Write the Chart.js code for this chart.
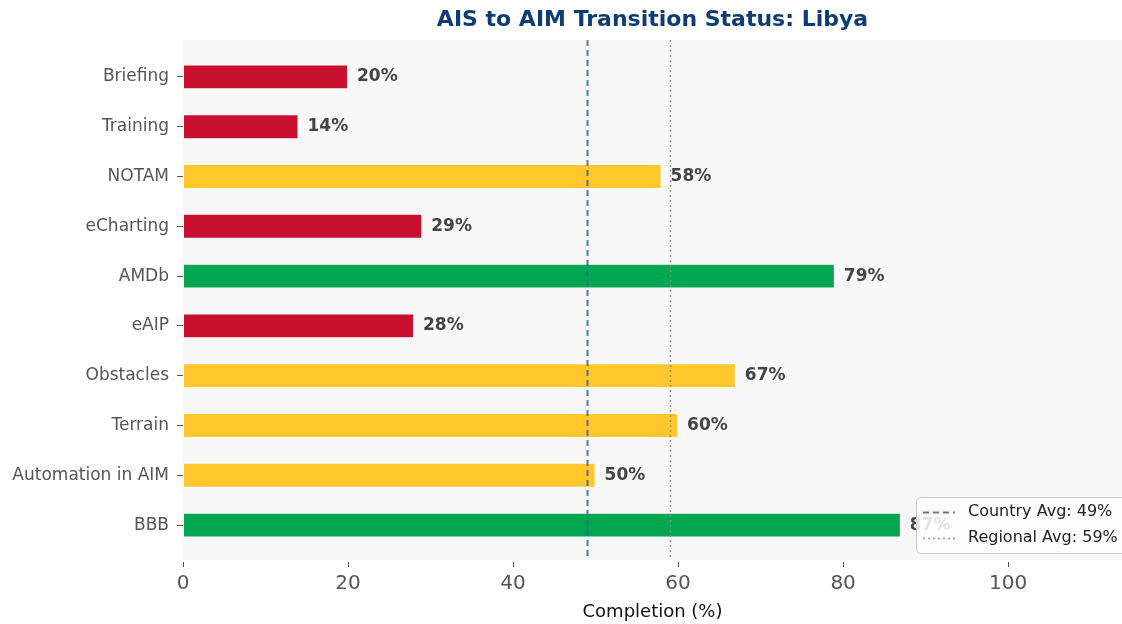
<!DOCTYPE html>
<html>
<head>
<meta charset="utf-8">
<script src="https://cdn.jsdelivr.net/npm/chart.js@4.4.0/dist/chart.umd.min.js"></script>
<style>
    html, body { margin: 0; padding: 0; background: #fff; }
    #wrap { width: 1122px; height: 624px; position: relative; }
</style>
</head>
<body>
<div id="wrap"><canvas id="statusChart"></canvas></div>
<script>
    // data
    var categories = ['Briefing', 'Training', 'NOTAM', 'eCharting', 'AMDb', 'eAIP',
        'Obstacles', 'Terrain', 'Automation in AIM', 'BBB'];
    var completion = [20, 14, 58, 29, 79, 28, 67, 60, 50, 87];
    var countryAvg = 49;
    var regionalAvg = 59;
    var xTicks = [0, 20, 40, 60, 80, 100];

    var FONT = '"DejaVu Sans", "Liberation Sans", sans-serif';

    function statusColor(v) {
        if (v >= 75) return '#00a650';
        if (v >= 40) return '#ffc72c';
        return '#c8102e';
    }

    var decorPlugin = {
        id: 'decor',
        beforeDraw: function (chart) {
            var ctx = chart.ctx, a = chart.chartArea;
            ctx.save();
            ctx.fillStyle = '#f8f8f8';
            ctx.fillRect(a.left, a.top - 12, a.right - a.left, a.bottom - a.top + 22);
            ctx.restore();
        },
        afterDatasetsDraw: function (chart) {
            var ctx = chart.ctx, a = chart.chartArea;
            var xs = chart.scales.x;
            ctx.save();
            // value labels
            var meta = chart.getDatasetMeta(0);
            ctx.font = 'bold 17px ' + FONT;
            ctx.fillStyle = '#444';
            ctx.textBaseline = 'middle';
            meta.data.forEach(function (bar, i) {
                ctx.fillText(completion[i] + '%', bar.x + 9, bar.y);
            });
            // average lines
            ctx.lineWidth = 2;
            ctx.strokeStyle = 'rgba(60,100,150,0.85)';
            ctx.setLineDash([6, 4]);
            var cx = Math.round(xs.getPixelForValue(countryAvg)) + 0.5;
            ctx.beginPath(); ctx.moveTo(cx, a.top - 12); ctx.lineTo(cx, a.bottom + 10); ctx.stroke();
            ctx.lineWidth = 1.5;
            ctx.strokeStyle = 'rgba(140,140,140,0.9)';
            ctx.setLineDash([2, 3]);
            var rx = Math.round(xs.getPixelForValue(regionalAvg)) + 0.5;
            ctx.beginPath(); ctx.moveTo(rx, a.top - 12); ctx.lineTo(rx, a.bottom + 10); ctx.stroke();
            ctx.setLineDash([]);
            // x tick marks below the panel
            ctx.strokeStyle = '#555';
            ctx.lineWidth = 1;
            xTicks.forEach(function (t) {
                var px = Math.round(xs.getPixelForValue(t)) + 0.5;
                ctx.beginPath(); ctx.moveTo(px, a.bottom + 12); ctx.lineTo(px, a.bottom + 17); ctx.stroke();
            });
            // title centred on the axes
            ctx.font = 'bold 22px ' + FONT;
            ctx.fillStyle = '#0f3d73';
            ctx.textAlign = 'center';
            ctx.textBaseline = 'middle';
            ctx.fillText('AIS to AIM Transition Status: Libya', (a.left + a.right) / 2, 20);
            // axis title
            ctx.font = '18px ' + FONT;
            ctx.fillStyle = '#111';
            ctx.fillText('Completion (%)', (a.left + a.right) / 2, 612);
            // legend
            var lx = 916, ly = 497, lw = 212, lh = 56;
            ctx.fillStyle = 'rgba(255,255,255,0.85)';
            ctx.strokeStyle = '#ccc';
            ctx.beginPath();
            ctx.roundRect(lx + 0.5, ly + 0.5, lw, lh, 4);
            ctx.fill(); ctx.stroke();
            ctx.lineWidth = 2;
            ctx.strokeStyle = 'rgba(60,100,150,0.85)';
            ctx.setLineDash([6, 4]);
            ctx.beginPath(); ctx.moveTo(923, 512.5); ctx.lineTo(955, 512.5); ctx.stroke();
            ctx.lineWidth = 1.5;
            ctx.strokeStyle = 'rgba(140,140,140,0.9)';
            ctx.setLineDash([2, 3]);
            ctx.beginPath(); ctx.moveTo(923, 538.5); ctx.lineTo(955, 538.5); ctx.stroke();
            ctx.setLineDash([]);
            ctx.font = '16px ' + FONT;
            ctx.fillStyle = '#222';
            ctx.textAlign = 'left';
            ctx.fillText('Country Avg: ' + countryAvg + '%', 968, 512);
            ctx.fillText('Regional Avg: ' + regionalAvg + '%', 968, 538);
            ctx.restore();
        }
    };

    new Chart(document.getElementById('statusChart'), {
        type: 'bar',
        data: {
            labels: categories,
            datasets: [{
                data: completion,
                backgroundColor: completion.map(statusColor),
                borderColor: '#ffffff',
                borderWidth: 1,
                borderSkipped: false,
                barPercentage: 0.5,
                categoryPercentage: 1.0
            }]
        },
        options: {
            indexAxis: 'y',
            responsive: true,
            maintainAspectRatio: false,
            animation: false,
            layout: { padding: { top: 52, right: 0, bottom: 0, left: 0 } },
            plugins: {
                legend: { display: false },
                title: { display: false },
                tooltip: { enabled: false }
            },
            scales: {
                x: {
                    type: 'linear',
                    min: 0,
                    max: 113.8,
                    afterFit: function (s) { s.height = 74; },
                    grid: { display: false, drawTicks: false },
                    border: { display: false },
                    afterBuildTicks: function (s) {
                        s.ticks = xTicks.map(function (v) { return { value: v }; });
                    },
                    ticks: {
                        padding: 22,
                        color: '#555',
                        font: { family: FONT, size: 20 }
                    }
                },
                y: {
                    afterFit: function (s) { s.width = 183; },
                    grid: { offset: false, drawOnChartArea: false, drawTicks: true, tickLength: 6, color: '#555' },
                    border: { display: false },
                    ticks: {
                        padding: 8,
                        color: '#555',
                        font: { family: FONT, size: 17 }
                    }
                }
            }
        },
        plugins: [decorPlugin]
    });
</script>
</body>
</html>
